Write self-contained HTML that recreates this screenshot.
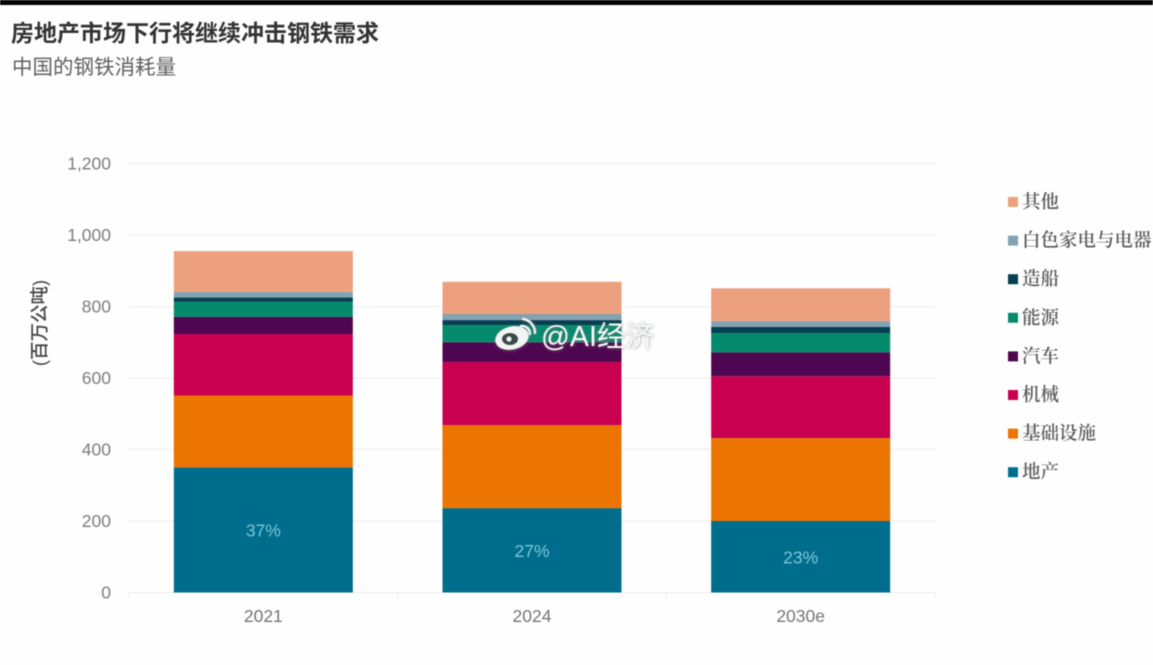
<!DOCTYPE html>
<html>
<head>
<meta charset="utf-8">
<style>
html,body{margin:0;padding:0;background:#fefefe;}
body{width:1153px;height:665px;overflow:hidden;position:relative;}
svg{position:absolute;left:0;top:0;filter:blur(0.45px);}
text{font-family:"Liberation Sans","Noto Sans CJK SC",sans-serif;}
.serif{font-family:"Liberation Serif","Noto Serif CJK SC",serif;}
</style>
</head>
<body>
<svg id="chart" width="1153" height="665" viewBox="0 0 1153 665" xmlns="http://www.w3.org/2000/svg">
  <defs>
    <filter id="wm-shadow" x="-20%" y="-40%" width="140%" height="180%">
      <feDropShadow dx="0.5" dy="0.5" stdDeviation="1.6" flood-color="#777" flood-opacity="0.75"/>
    </filter>
  </defs>
  <rect x="0" y="0" width="1153" height="5" fill="#000"/>
  <text x="11" y="41" font-size="23" font-weight="700" fill="#333">房地产市场下行将继续冲击钢铁需求</text>
  <text x="12" y="74" font-size="20.5" fill="#5f5f5f">中国的钢铁消耗量</text>
  <g id="grid"></g>
  <g id="bars"></g>
  <g id="labels"></g>
  <g id="legend"></g>
  <text transform="translate(46,323) rotate(-90)" text-anchor="middle" font-size="18.5" font-weight="500" fill="#444">(百万公吨)</text>
  <g filter="url(#wm-shadow)">
    <g>
      <ellipse cx="512" cy="338" rx="17" ry="11.5" fill="#f2f5f4" transform="rotate(-14 512 338)"/>
      <ellipse cx="510" cy="339" rx="8" ry="6" fill="#3c4a4a"/>
      <circle cx="509" cy="339" r="2.6" fill="#f2f5f4"/>
      <path d="M521 326 A8 8 0 0 1 530 334" fill="none" stroke="#f2f5f4" stroke-width="2.4" stroke-linecap="round"/>
      <path d="M523 319 A14 14 0 0 1 535 333" fill="none" stroke="#f2f5f4" stroke-width="2.4" stroke-linecap="round"/>
    </g>
    <text x="541" y="346" font-size="28.5" fill="#f6f8f8">@AI经济</text>
  </g>
</svg>
<script>
var categories = ["2021", "2024", "2030e"];
var seriesNames = ["地产", "基础设施", "机械", "汽车", "能源", "造船", "白色家电与电器", "其他"];
var seriesColors = ["#016d8c", "#ec7400", "#c8004f", "#4f0650", "#068a6c", "#053f52", "#83a3b3", "#eda07d"];
var property = [350, 236, 200];
var infrastructure = [201, 232, 232];
var machinery = [172, 177, 173];
var autos = [48, 55, 67];
var energy = [42, 48, 54];
var shipbuilding = [12, 14, 17];
var appliances = [16, 17, 16];
var other = [114, 90, 92];
var shareLabels = ["37%", "27%", "23%"];
var yTicks = [0, 200, 400, 600, 800, 1000, 1200];
var yTickLabels = ["0", "200", "400", "600", "800", "1,000", "1,200"];

var plotLeft = 129, plotRight = 935, plotBottom = 592.5, plotTop = 163.5, yMax = 1200;
var barWidth = 179;
var NS = "http://www.w3.org/2000/svg";

function yScale(v) { return plotBottom - (v / yMax) * (plotBottom - plotTop); }
function xBand(i) { return plotLeft + (i + 0.5) * (plotRight - plotLeft) / categories.length; }
function xEdge(i) { return plotLeft + i * (plotRight - plotLeft) / categories.length; }
function make(tag, attrs, parent, txt) {
  var el = document.createElementNS(NS, tag);
  for (var k in attrs) el.setAttribute(k, attrs[k]);
  if (txt !== undefined) el.textContent = txt;
  parent.appendChild(el);
  return el;
}

var gridG = document.getElementById("grid");
var barsG = document.getElementById("bars");
var labelsG = document.getElementById("labels");
var legendG = document.getElementById("legend");
var allSeries = [property, infrastructure, machinery, autos, energy, shipbuilding, appliances, other];

yTicks.forEach(function (t, i) {
  var line = make("line", {x1: plotLeft, x2: plotRight, y1: yScale(t), y2: yScale(t), stroke: "#efefef", "stroke-width": 1.3}, gridG);
  
  
  var lab = make("text", {x: 111, y: yScale(t) + 6, "text-anchor": "end", "font-size": 17.5, fill: "#7c7c7c"}, gridG, yTickLabels[i]);
  
  
});

for (var e = 0; e <= categories.length; e++) {
  var tick = make("line", {x1: xEdge(e), x2: xEdge(e), y1: plotBottom, y2: plotBottom + 6, stroke: "#efefef", "stroke-width": 1.2}, gridG);
  
  
}

categories.forEach(function (c, i) {
  var cum = 0;
  var x = xBand(i) - barWidth / 2;
  allSeries.forEach(function (s, j) {
    var y0 = yScale(cum), y1 = yScale(cum + s[i]);
    var r = make("rect", {x: x, y: y1, width: barWidth, height: y0 - y1, fill: seriesColors[j]}, barsG);
    
    
    cum += s[i];
  });
  var xl = make("text", {x: xBand(i), y: 622, "text-anchor": "middle", "font-size": 17.5, fill: "#747474"}, labelsG, c);
  
  
  var sl = make("text", {x: xBand(i), y: yScale(property[i] / 2) + 6.5, "text-anchor": "middle", "font-size": 17.5, fill: "#7ac6d8"}, labelsG, shareLabels[i]);
  
  
});

for (var n = seriesNames.length - 1; n >= 0; n--) {
  var row = seriesNames.length - 1 - n;
  var cy = 202 + row * 38.6;
  var sw = make("rect", {x: 1008, y: cy - 5, width: 10, height: 10, fill: seriesColors[n]}, legendG);
  
  
  var lt = make("text", {x: 1022, y: cy + 6, "font-size": 18.5, "font-weight": 600, fill: "#5a5a5a", "class": "serif"}, legendG, seriesNames[n]);
  
  
}
</script>
</body>
</html>
